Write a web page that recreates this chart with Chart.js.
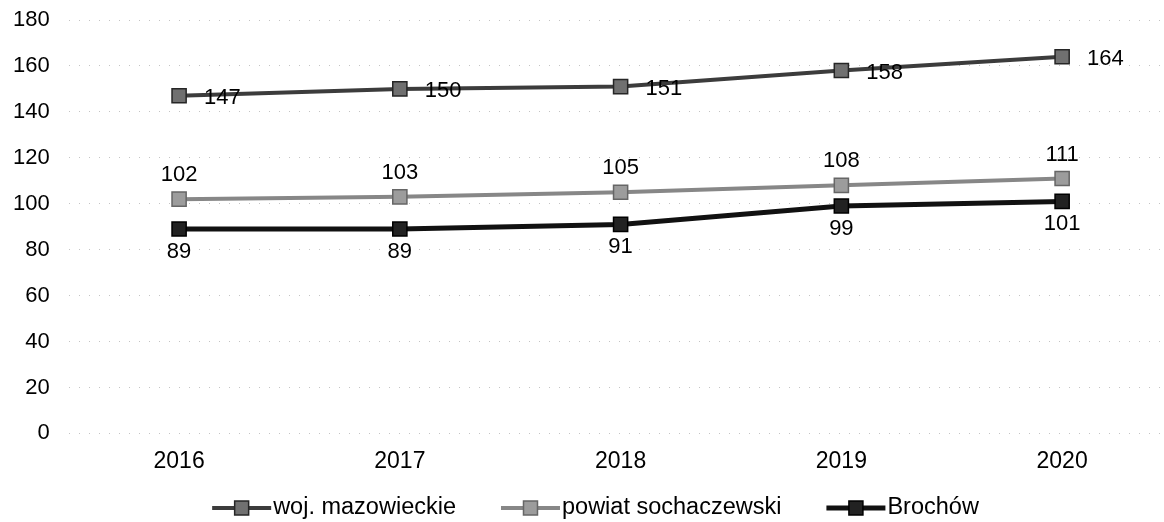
<!DOCTYPE html>
<html>
<head>
<meta charset="utf-8">
<script src="https://cdn.jsdelivr.net/npm/chart.js@4"></script>
<style>
    html, body { margin: 0; padding: 0; background: #fff; overflow: hidden; }
    #wrap { width: 1203px; height: 522px; margin-left: -19px; }
</style>
</head>
<body>
<div id="wrap"><canvas id="lineChart"></canvas></div>
<script>
// Chart data
const years = ['2016', '2017', '2018', '2019', '2020'];
const mazowieckie = [147, 150, 151, 158, 164];
const sochaczewski = [102, 103, 105, 108, 111];
const brochow = [89, 89, 91, 99, 101];
const yTicks = [0, 20, 40, 60, 80, 100, 120, 140, 160, 180];

const FONT = '"Liberation Sans", Arial, sans-serif';

// Value labels next to each point (position per series)
const valueLabels = {
    id: 'valueLabels',
    afterDatasetsDraw(chart) {
        const ctx = chart.ctx;
        ctx.save();
        ctx.font = '22px ' + FONT;
        ctx.fillStyle = '#000';
        chart.data.datasets.forEach((ds, i) => {
            const meta = chart.getDatasetMeta(i);
            meta.data.forEach((pt, j) => {
                const v = ds.data[j];
                ctx.textBaseline = 'middle';
                if (ds.labelPos === 'right') {
                    ctx.textAlign = 'left';
                    ctx.fillText(v, pt.x + 25, pt.y + 2);
                } else if (ds.labelPos === 'above') {
                    ctx.textAlign = 'center';
                    ctx.fillText(v, pt.x, pt.y - 24);
                } else {
                    ctx.textAlign = 'center';
                    ctx.fillText(v, pt.x, pt.y + 23);
                }
            });
        });
        ctx.restore();
    }
};

// Legend with line + square marker, like the original
const lineLegend = {
    id: 'lineLegend',
    afterDraw(chart) {
        const ctx = chart.ctx;
        ctx.save();
        ctx.font = '23.5px ' + FONT;
        const lineW = 59, gap = 2, itemGap = 45;
        const items = chart.data.datasets.map(ds => ({
            ds: ds,
            w: lineW + gap + ctx.measureText(ds.label).width
        }));
        const total = items.reduce((a, it) => a + it.w, 0) + itemGap * (items.length - 1);
        let x = chart.width / 2 + 13 - total / 2;
        const y = 508;
        items.forEach(it => {
            const ds = it.ds;
            ctx.strokeStyle = ds.borderColor;
            ctx.lineWidth = ds.borderWidth;
            ctx.beginPath();
            ctx.moveTo(x, y);
            ctx.lineTo(x + lineW, y);
            ctx.stroke();
            ctx.fillStyle = ds.pointBackgroundColor;
            ctx.strokeStyle = ds.pointBorderColor;
            ctx.lineWidth = 1.5;
            ctx.fillRect(x + lineW / 2 - 7, y - 7, 14, 14);
            ctx.strokeRect(x + lineW / 2 - 7, y - 7, 14, 14);
            ctx.fillStyle = '#000';
            ctx.textAlign = 'left';
            ctx.textBaseline = 'middle';
            ctx.fillText(ds.label, x + lineW + gap, y);
            x += it.w + itemGap;
        });
        ctx.restore();
    }
};

const ctx = document.getElementById('lineChart');

new Chart(ctx, {
    type: 'line',
    data: {
        labels: years,
        datasets: [{
            label: 'woj. mazowieckie',
            data: mazowieckie,
            borderColor: '#3c3c3c',
            borderWidth: 4,
            pointStyle: 'rect',
            pointRadius: 10,
            pointBackgroundColor: '#707070',
            pointBorderColor: '#262626',
            pointBorderWidth: 1.5,
            labelPos: 'right'
        }, {
            label: 'powiat sochaczewski',
            data: sochaczewski,
            borderColor: '#878787',
            borderWidth: 4,
            pointStyle: 'rect',
            pointRadius: 10,
            pointBackgroundColor: '#9c9c9c',
            pointBorderColor: '#666666',
            pointBorderWidth: 1.5,
            labelPos: 'above'
        }, {
            label: 'Brochów',
            data: brochow,
            borderColor: '#111111',
            borderWidth: 5,
            pointStyle: 'rect',
            pointRadius: 10,
            pointBackgroundColor: '#222222',
            pointBorderColor: '#000000',
            pointBorderWidth: 1.5,
            labelPos: 'below'
        }]
    },
    options: {
        responsive: true,
        maintainAspectRatio: false,
        animation: false,
        layout: {
            padding: { left: 30, right: 8, top: 20, bottom: 33 }
        },
        plugins: {
            legend: { display: false },
            tooltip: { enabled: false }
        },
        scales: {
            x: {
                offset: true,
                grid: { display: false, drawTicks: false },
                border: { display: false },
                ticks: {
                    color: '#000',
                    padding: 14,
                    font: { family: FONT, size: 23 }
                }
            },
            y: {
                min: 0,
                max: 180,
                afterBuildTicks: (axis) => {
                    axis.ticks = yTicks.map(v => ({ value: v }));
                },
                grid: {
                    color: '#c4c4c4',
                    lineWidth: 1,
                    drawTicks: true,
                    tickLength: 17,
                    tickColor: 'rgba(0,0,0,0)'
                },
                border: { display: false, dash: [1, 9] },
                ticks: {
                    color: '#000',
                    padding: 2,
                    font: { family: FONT, size: 22 }
                }
            }
        }
    },
    plugins: [valueLabels, lineLegend]
});
</script>
</body>
</html>
